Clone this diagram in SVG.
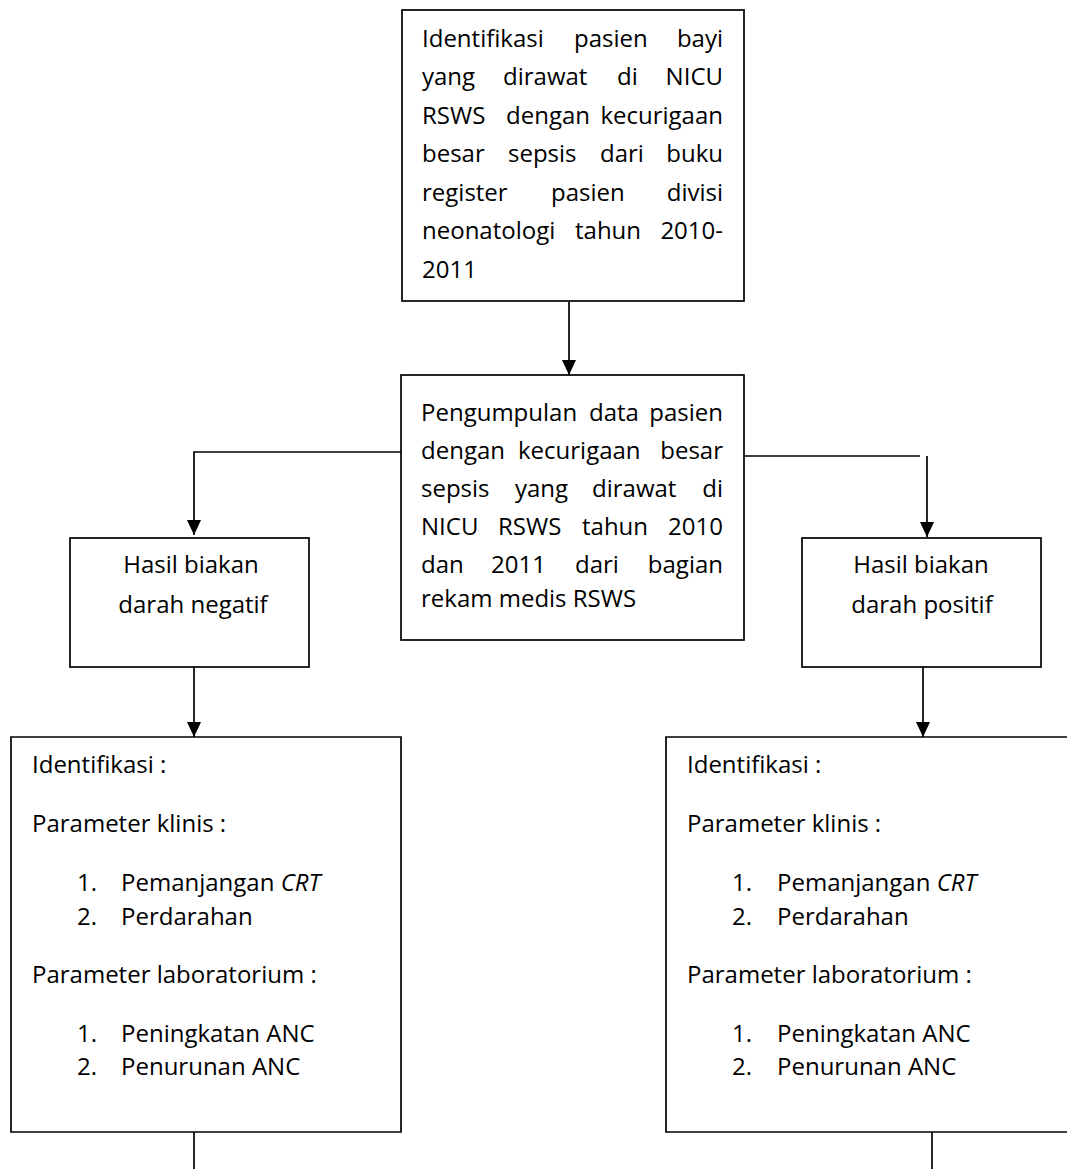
<svg xmlns="http://www.w3.org/2000/svg" width="1067" height="1169" viewBox="0 0 1067 1169">
<style>
  .box { fill: #ffffff; stroke: #000000; stroke-width: 1.7; }
  .edge { fill: none; stroke: #000000; stroke-width: 1.7; }
  text { font-family: "Open Sans", "Noto Sans", "Liberation Sans", sans-serif; font-size: 24px; fill: #000000; }
  .c { text-anchor: middle; }
  .e { text-anchor: end; }
  .i { font-style: italic; }
</style>
<defs>
  <marker id="arrow" viewBox="0 0 15 14" refX="15" refY="7" markerWidth="15" markerHeight="14" markerUnits="userSpaceOnUse" orient="auto">
    <path d="M0,0 L15,7 L0,14 Z" fill="#000000"/>
  </marker>
</defs>
<rect width="1067" height="1169" fill="#ffffff"/>

<g id="connectors">
  <line class="edge" x1="569" y1="302" x2="569" y2="375" marker-end="url(#arrow)"/>
  <polyline class="edge" points="403,452 194,452 194,535" marker-end="url(#arrow)"/>
  <line class="edge" x1="744" y1="456" x2="920" y2="456"/>
  <line class="edge" x1="927" y1="456" x2="927" y2="537" marker-end="url(#arrow)"/>
  <line class="edge" x1="194" y1="667" x2="194" y2="737" marker-end="url(#arrow)"/>
  <line class="edge" x1="923" y1="667" x2="923" y2="737" marker-end="url(#arrow)"/>
  <line class="edge" x1="194" y1="1132" x2="194" y2="1169"/>
  <line class="edge" x1="932" y1="1130" x2="932" y2="1169"/>
</g>

<g id="node-identifikasi-pasien">
  <rect class="box" x="402" y="10" width="342" height="291"/>
  <text y="47"><tspan x="422">Identifikasi</tspan><tspan x="574">pasien</tspan><tspan x="723" class="e">bayi</tspan></text>
  <text y="85"><tspan x="422">yang</tspan><tspan x="503">dirawat</tspan><tspan x="617">di</tspan><tspan x="723" class="e">NICU</tspan></text>
  <text y="124"><tspan x="422">RSWS</tspan><tspan x="506">dengan</tspan><tspan x="723" class="e">kecurigaan</tspan></text>
  <text y="162"><tspan x="422">besar</tspan><tspan x="508">sepsis</tspan><tspan x="600">dari</tspan><tspan x="723" class="e">buku</tspan></text>
  <text y="201"><tspan x="422">register</tspan><tspan x="551">pasien</tspan><tspan x="723" class="e">divisi</tspan></text>
  <text y="239"><tspan x="422">neonatologi</tspan><tspan x="575">tahun</tspan><tspan x="723" class="e">2010-</tspan></text>
  <text x="422" y="278">2011</text>
</g>

<g id="node-pengumpulan-data">
  <rect class="box" x="401" y="375" width="343" height="265"/>
  <text y="421"><tspan x="421">Pengumpulan</tspan><tspan x="589">data</tspan><tspan x="723" class="e">pasien</tspan></text>
  <text y="459"><tspan x="421">dengan</tspan><tspan x="518">kecurigaan</tspan><tspan x="723" class="e">besar</tspan></text>
  <text y="497"><tspan x="421">sepsis</tspan><tspan x="515">yang</tspan><tspan x="592">dirawat</tspan><tspan x="723" class="e">di</tspan></text>
  <text y="535"><tspan x="421">NICU</tspan><tspan x="498">RSWS</tspan><tspan x="582">tahun</tspan><tspan x="723" class="e">2010</tspan></text>
  <text y="573"><tspan x="421">dan</tspan><tspan x="491">2011</tspan><tspan x="575">dari</tspan><tspan x="723" class="e">bagian</tspan></text>
  <text x="421" y="607">rekam medis RSWS</text>
</g>

<g id="node-negatif">
  <rect class="box" x="70" y="538" width="239" height="129"/>
  <text class="c" x="191" y="573">Hasil biakan</text>
  <text class="c" x="193" y="613">darah negatif</text>
</g>

<g id="node-positif">
  <rect class="box" x="802" y="538" width="239" height="129"/>
  <text class="c" x="921" y="573">Hasil biakan</text>
  <text class="c" x="922" y="613">darah positif</text>
</g>

<g id="node-identifikasi-negatif">
  <path class="box" d="M11,737 H401 V1132 H11 Z"/>
  <text x="32" y="773">Identifikasi :</text>
  <text x="32" y="832">Parameter klinis :</text>
  <text x="77" y="891">1.</text>
  <text x="121" y="891">Pemanjangan <tspan class="i">CRT</tspan></text>
  <text x="77" y="925">2.</text>
  <text x="121" y="925">Perdarahan</text>
  <text x="32" y="983">Parameter laboratorium :</text>
  <text x="77" y="1042">1.</text>
  <text x="121" y="1042">Peningkatan ANC</text>
  <text x="77" y="1075">2.</text>
  <text x="121" y="1075">Penurunan ANC</text>
</g>

<g id="node-identifikasi-positif">
  <path class="box" d="M1070,737 H666 V1132 H1070"/>
  <text x="687" y="773">Identifikasi :</text>
  <text x="687" y="832">Parameter klinis :</text>
  <text x="732" y="891">1.</text>
  <text x="777" y="891">Pemanjangan <tspan class="i">CRT</tspan></text>
  <text x="732" y="925">2.</text>
  <text x="777" y="925">Perdarahan</text>
  <text x="687" y="983">Parameter laboratorium :</text>
  <text x="732" y="1042">1.</text>
  <text x="777" y="1042">Peningkatan ANC</text>
  <text x="732" y="1075">2.</text>
  <text x="777" y="1075">Penurunan ANC</text>
</g>
</svg>
